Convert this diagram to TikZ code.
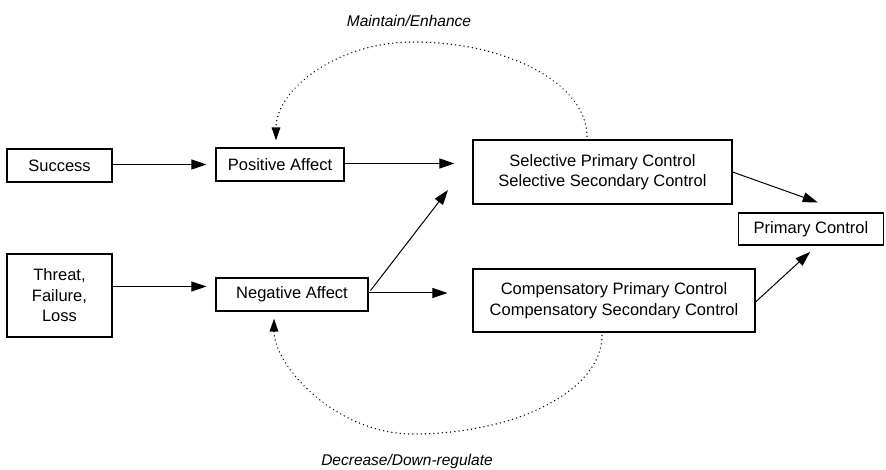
\documentclass[tikz,border=0pt]{standalone}
\usepackage{fontspec}
\setmainfont{Liberation Sans}
\usetikzlibrary{arrows.meta}

\begin{document}
\begin{tikzpicture}[x=1pt,y=-1pt,
  box/.style={draw,line width=1.1pt,inner sep=0pt,align=center,
    font=\fontsize{16.5}{20.5}\selectfont},
  flow/.style={line width=1pt,-{Triangle[length=15pt,width=10pt]}},
  loop/.style={line width=1.5pt,line cap=round,dash pattern=on 0.01pt off 4.2pt,
    -{Triangle[length=13pt,width=8.5pt]}},
  caption/.style={font=\fontsize{15.5}{18}\selectfont\itshape}
]
\useasboundingbox (0,0) rectangle (886,470);

% boxes
\node[box,minimum width=105pt,minimum height=33pt] (succ) at (59.5,165.5) {Success};
\node[box,minimum width=128pt,minimum height=33pt] (pos) at (280,164.5) {Positive Affect};
\node[box,minimum width=105pt,minimum height=83pt] (threat) at (59.5,295.5) {Threat,\\Failure,\\Loss};
\node[box,minimum width=152pt,minimum height=33pt] (neg) at (292,294.5) {Negative Affect};
\node[box,minimum width=259pt,minimum height=64pt] (sel) at (602.5,172) {Selective Primary Control\\Selective Secondary Control};
\node[box,minimum width=282pt,minimum height=63pt] (comp) at (614,300.5) {Compensatory Primary Control\\Compensatory Secondary Control};
\node[box,minimum width=145pt,minimum height=32pt] (prim) at (811,229) {Primary Control};

% captions
\node[caption] (maint) at (409,21) {Maintain/Enhance};
\node[caption] (decr) at (407,461) {Decrease/Down-regulate};

% solid connectors
\draw[flow,shorten >=9pt] ([yshift=1pt]succ.east) -- ([yshift=1pt]succ.east -| pos.west);
\draw[flow,shorten >=18pt] ([yshift=1pt]pos.east) -- ([yshift=1pt]pos.east -| sel.west);
\draw[flow,shorten >=9pt] ([yshift=9pt]threat.east) -- ([yshift=9pt]threat.east -| neg.west);
\draw[flow,shorten >=25pt] ([yshift=1.5pt]neg.east) -- ([yshift=1.5pt]neg.east -| comp.west);
\coordinate (selin) at (448,190);
\draw[flow] ([xshift=2pt,yshift=4pt]neg.east) -- (selin);
\draw[flow,shorten >=30pt] (sel.east) -- ([xshift=35pt]prim.north);
\draw[flow,shorten >=9.4pt] ([yshift=-1.5pt]comp.east) -- ([xshift=6pt]prim.south);

% dotted feedback loops
\coordinate (toppeak) at (413,42);
\coordinate (lowpeak) at (413,434);
\draw[loop,shorten >=7pt] ([xshift=-15.5pt,yshift=3pt]sel.north)
  .. controls (587,84.6) and (509,42) .. (toppeak)
  .. controls (337.4,42) and (276,89.5) .. ([xshift=-4pt]pos.north);
\draw[loop,shorten >=7pt] ([xshift=-12pt,yshift=-3pt]comp.south)
  .. controls (602,390) and (517,434) .. (lowpeak)
  .. controls (336,434) and (274,366) .. ([xshift=-18pt]neg.south);
\end{tikzpicture}
\end{document}
